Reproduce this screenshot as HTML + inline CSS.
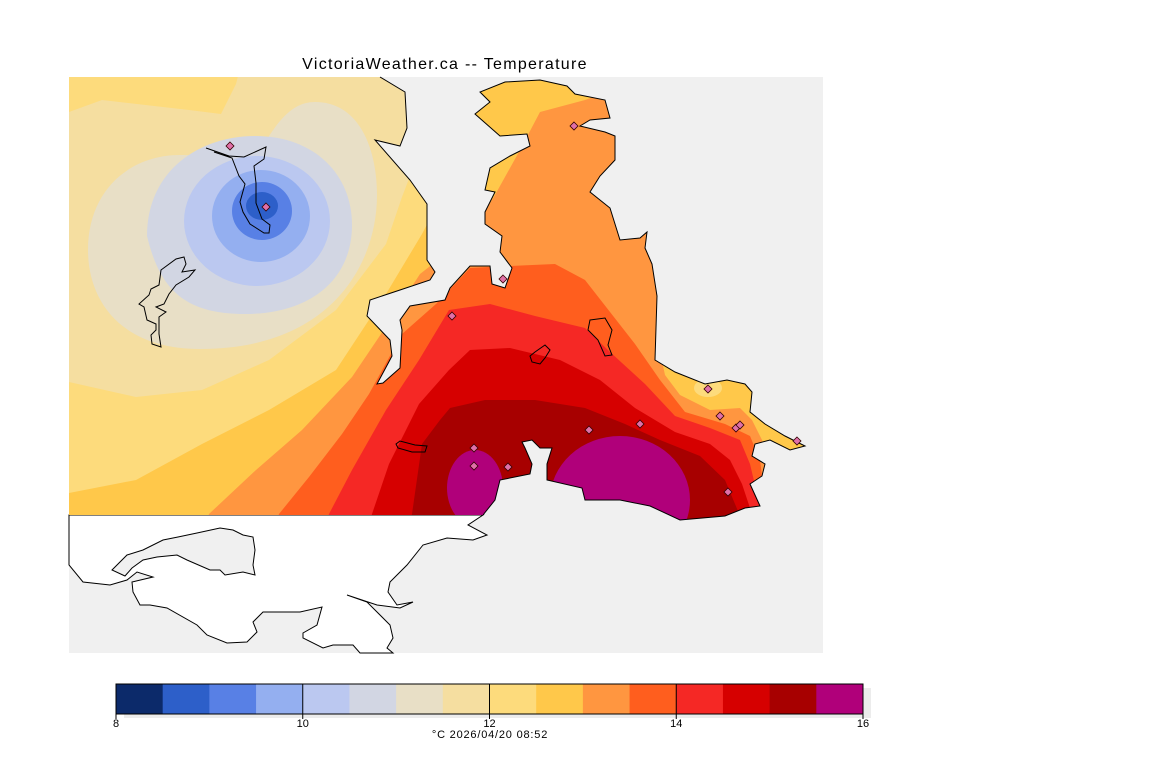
<!DOCTYPE html>
<html><head><meta charset="utf-8"><style>
html,body{margin:0;padding:0;background:#fff;}
svg{display:block;font-family:"Liberation Sans",sans-serif;}
</style></head><body>
<svg id="chart" width="1152" height="768" viewBox="0 0 1152 768">
<defs>
<clipPath id="landclip"><path d="M69,77 L380,77 L405,92 L407,128 L400,146 L375,140 L410,180 L427,204 L427,260 L435,272 L430,280 L400,290 L370,300 L367,316 L390,340 L392,356 L377,384 L383,383 L400,368 L402,330 L400,320 L410,306 L445,300 L450,288 L470,266 L490,266 L492,284 L505,288 L512,268 L500,252 L502,236 L485,224 L485,212 L495,192 L485,190 L490,168 L510,156 L530,146 L527,134 L500,136 L475,114 L490,102 L480,92 L505,82 L540,80 L567,86 L575,94 L605,100 L610,118 L590,120 L580,126 L605,132 L615,136 L615,160 L600,176 L590,192 L610,208 L620,240 L640,238 L647,232 L645,248 L652,264 L657,296 L655,360 L675,372 L705,384 L727,380 L745,384 L752,392 L750,412 L765,424 L785,436 L805,446 L790,450 L770,440 L755,444 L752,456 L765,464 L762,476 L750,484 L760,506 L745,508 L725,516 L680,520 L650,506 L620,500 L585,500 L582,488 L547,480 L547,464 L552,448 L540,448 L532,440 L522,442 L525,448 L532,464 L530,474 L500,480 L495,500 L483,515 L69,515 Z"/></clipPath>
</defs>
<text x="445" y="69" text-anchor="middle" font-size="16" letter-spacing="1.3" fill="#000">VictoriaWeather.ca -- Temperature</text>
<rect x="69" y="77" width="754" height="576" fill="#f0f0f0"/>
<g>
<path d="M69,515 L483,515 L468,525 L487,535 L473,540 L447,538 L423,545 L407,565 L390,582 L388,592 L397,605 L413,602 L400,608 L377,605 L347,595 L367,602 L377,612 L390,625 L393,638 L387,648 L393,653 L360,653 L353,645 L333,645 L323,648 L303,638 L303,633 L317,625 L322,607 L300,612 L263,612 L253,622 L257,632 L247,642 L227,643 L207,635 L197,625 L167,608 L150,605 L140,605 L133,592 L132,582 L153,577 L137,572 L127,580 L110,585 L83,582 L69,565 Z" fill="#fff" stroke="#000" stroke-width="1"/>
<path d="M125,576 L112,570 L127,555 L143,550 L163,540 L178,537 L197,533 L220,528 L233,530 L243,535 L253,537 L255,550 L253,565 L255,575 L243,572 L225,575 L220,570 L210,570 L187,560 L177,555 L157,557 L143,560 L132,568 Z" fill="#f0f0f0" stroke="#000" stroke-width="1"/>
</g>
<g clip-path="url(#landclip)">
<rect x="60" y="60" width="800" height="480" fill="#fddb7c"/>
<path d="M242,60 L236,84 L221,114 L189,110 L102,100 L69,112 L60,112 L60,382 L69,382 L136,397 L202,390 L269,360 L336,310 L386,244 L402,197 L420,150 L440,60 Z" fill="#f5dea0"/>
<path d="M88,250 C88,190 130,155 180,155 C220,155 240,165 262,148 C282,112 298,102 315,102 C360,102 377,150 377,195 C377,265 330,349 200,349 C120,349 88,300 88,250 Z" fill="#e8dfc6"/>
<path d="M147,236 C147,170 200,136 255,136 C315,136 352,175 352,225 C352,280 310,314 245,314 C185,314 160,290 147,236 Z" fill="#d2d6e3"/>
<ellipse cx="257" cy="221" rx="73" ry="65" fill="#bbc8f0"/>
<ellipse cx="261" cy="216" rx="49" ry="46" fill="#94aff0"/>
<ellipse cx="262" cy="211" rx="30" ry="29" fill="#5880e5"/>
<ellipse cx="262" cy="206" rx="16" ry="14" fill="#2d5fc9"/>
<path d="M60,493 L69,493 L136,480 L202,444 L269,410 L336,370 L386,294 L422,234 L440,200 L460,60 L860,60 L860,540 L60,540 Z" fill="#ffc84a"/>
<path d="M200,540 L209,514 L256,470 L302,430 L352,377 L379,337 L420,274 L470,235 L495,195 L520,150 L540,112 L585,100 L620,88 L700,80 L700,340 L660,352 L665,375 L680,395 L710,410 L740,408 L752,420 L762,440 L770,470 L780,540 Z" fill="#ff9640"/>
<ellipse cx="708" cy="388" rx="14" ry="9" fill="#fddb7c"/>
<path d="M270,540 L279,514 L309,477 L342,434 L369,394 L402,334 L436,304 L470,268 L510,266 L555,264 L585,280 L610,312 L635,344 L660,380 L685,412 L725,424 L750,436 L760,460 L770,540 Z" fill="#ff5e1e"/>
<path d="M320,540 L329,514 L352,470 L386,410 L419,360 L449,310 L490,304 L535,316 L585,328 L610,352 L645,384 L675,416 L710,428 L740,440 L750,464 L760,506 L770,540 Z" fill="#f52825"/>
<path d="M365,540 L372,514 L389,464 L419,404 L449,370 L470,350 L510,348 L560,360 L600,380 L635,408 L675,432 L710,444 L730,460 L742,484 L750,508 L755,540 Z" fill="#d60000"/>
<path d="M405,540 L412,514 L422,444 L440,420 L450,408 L485,400 L535,400 L585,408 L625,424 L660,440 L700,456 L725,480 L740,516 L740,540 Z" fill="#a70000"/>
<ellipse cx="475" cy="488" rx="28" ry="38" fill="#b0007a"/>
<ellipse cx="620" cy="500" rx="70" ry="64" fill="#b0007a"/>
</g>
<path d="M380,77 L405,92 L407,128 L400,146 L375,140 L410,180 L427,204 L427,260 L435,272 L430,280 L400,290 L370,300 L367,316 L390,340 L392,356 L377,384 L383,383 L400,368 L402,330 L400,320 L410,306 L445,300 L450,288 L470,266 L490,266 L492,284 L505,288 L512,268 L500,252 L502,236 L485,224 L485,212 L495,192 L485,190 L490,168 L510,156 L530,146 L527,134 L500,136 L475,114 L490,102 L480,92 L505,82 L540,80 L567,86 L575,94 L605,100 L610,118 L590,120 L580,126 L605,132 L615,136 L615,160 L600,176 L590,192 L610,208 L620,240 L640,238 L647,232 L645,248 L652,264 L657,296 L655,360 L675,372 L705,384 L727,380 L745,384 L752,392 L750,412 L765,424 L785,436 L805,446 L790,450 L770,440 L755,444 L752,456 L765,464 L762,476 L750,484 L760,506 L745,508 L725,516 L680,520 L650,506 L620,500 L585,500 L582,488 L547,480 L547,464 L552,448 L540,448 L532,440 L522,442 L525,448 L532,464 L530,474 L500,480 L495,500 L483,515" fill="none" stroke="#000" stroke-width="1"/>
<g fill="none" stroke="#000" stroke-width="1">
<path d="M184,257 L186,264 L182,272 L195,270 L189,277 L176,285 L169,294 L164,304 L156,307 L166,312 L159,317 L159,334 L161,347 L152,344 L151,335 L156,330 L156,324 L147,320 L144,307 L139,304 L149,295 L151,289 L159,285 L161,270 L176,259 Z"/>
<path d="M206,148 L229,156 L244,157 L266,147 L264,159 L254,166 L256,183 L256,203 L262,219 L270,225 L269,233 L264,233 L250,224 L243,212 L240,202 L245,184 L239,176 L232,158 L214,152"/>
<path d="M590,320 L605,318 L612,330 L608,345 L612,355 L605,356 L598,340 L588,330 Z"/>
<path d="M535,352 L545,345 L550,350 L545,358 L540,364 L532,362 L530,356 Z"/>
<path d="M396,444 L400,441 L415,445 L427,446 L425,452 L412,452 L398,448 Z"/>
</g>
<g id="stations"></g>
<g id="colorbar"></g>
<text x="490" y="738" text-anchor="middle" font-size="11" letter-spacing="0.8" fill="#000">°C  2026/04/20 08:52</text>
<script>
const levels = [8,8.5,9,9.5,10,10.5,11,11.5,12,12.5,13,13.5,14,14.5,15,15.5,16];
const colors = ['#0c2a6a','#2d5fc9','#5880e5','#94aff0','#bbc8f0','#d2d6e3','#e8dfc6','#f5dea0','#fddb7c','#ffc84a','#ff9640','#ff5e1e','#f52825','#d60000','#a70000','#b0007a'];
const tickValues = [8,10,12,14,16];
const tickLabels = ['8','10','12','14','16'];
const stationX = [230,266,574,503,452,708,720,736,740,640,589,474,474,508,728,797];
const stationY = [146,207,126,279,316,389,416,428,425,424,430,448,466,467,492,441];

const NS = 'http://www.w3.org/2000/svg';
const cb = document.getElementById('colorbar');
const x0 = 116, x1 = 863, yTop = 684, h = 30;
const xs = v => x0 + (v - levels[0]) / (levels[levels.length-1] - levels[0]) * (x1 - x0);
function mk(tag, attrs, parent){ const e = document.createElementNS(NS, tag); for (const k in attrs) e.setAttribute(k, attrs[k]); parent.appendChild(e); return e; }
const sh = mk('rect', {x: x0+8, y: yTop+4, width: x1-x0, height: h, fill: '#ececec'}, cb);


for (let i = 0; i < colors.length; i++) {
  const r = mk('rect', {x: xs(levels[i]), y: yTop, width: xs(levels[i+1]) - xs(levels[i]) + 0.5, height: h, fill: colors[i]}, cb);
  
  
}
mk('rect', {x: x0, y: yTop, width: x1-x0, height: h, fill: 'none', stroke: '#000', 'stroke-width': 1}, cb);
tickValues.forEach((v, i) => {
  const x = xs(v);
  const l = mk('line', {x1: x, x2: x, y1: yTop, y2: yTop + h + 5, stroke: '#000', 'stroke-width': 1}, cb);
  
  
  const t = mk('text', {x: x, y: yTop + h + 13, 'text-anchor': 'middle', 'font-size': 11, fill: '#000'}, cb);
  t.textContent = tickLabels[i];
  
  
});
const st = document.getElementById('stations');
stationX.forEach((x, i) => {
  const y = stationY[i];
  const p = mk('path', {d: `M${x},${y-4} L${x+4},${y} L${x},${y+4} L${x-4},${y} Z`, fill: '#e070a8', stroke: '#300', 'stroke-width': 0.8}, st);
  
  
});
</script>
</svg>
</body></html>
